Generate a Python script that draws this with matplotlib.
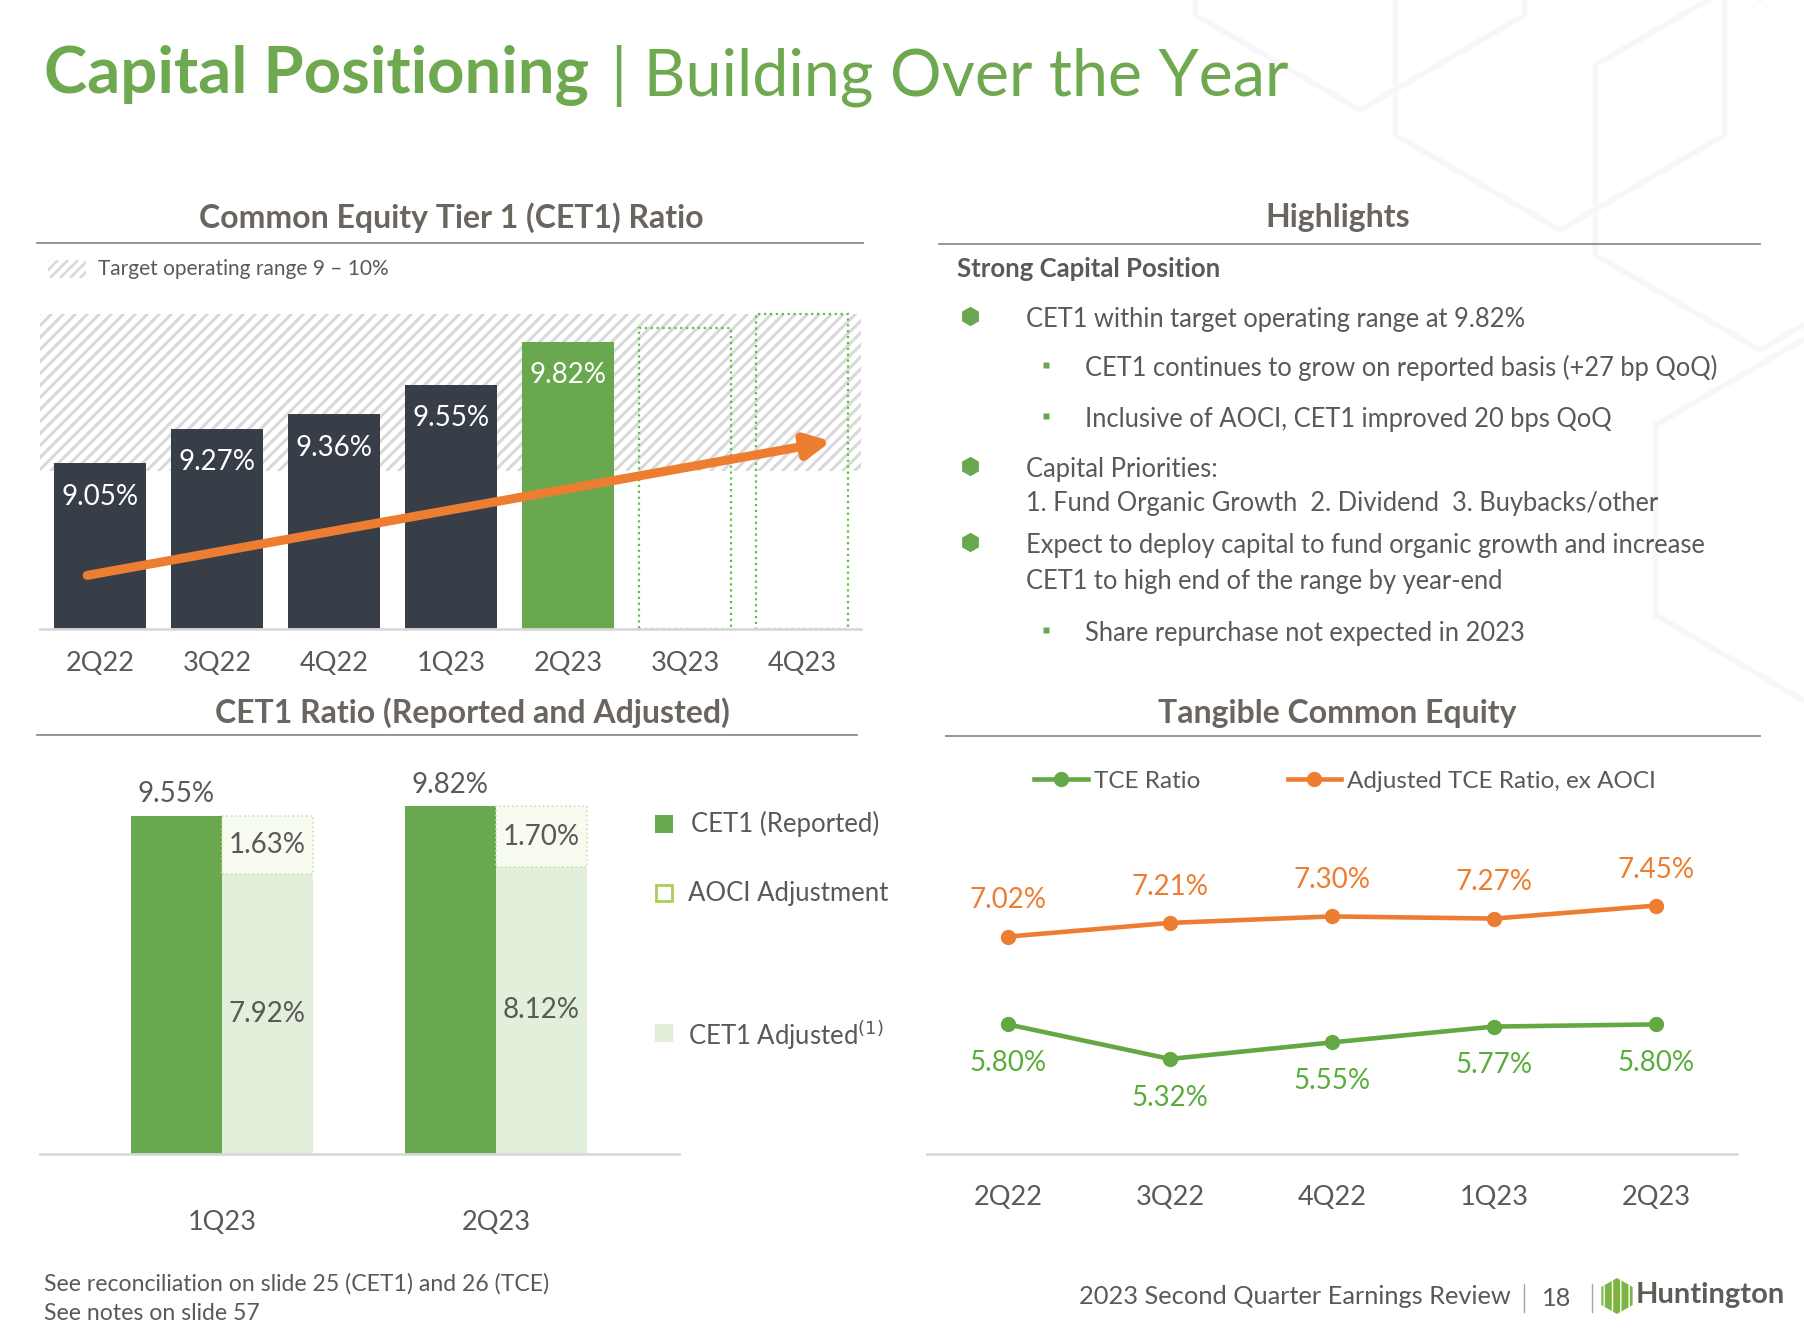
import matplotlib
matplotlib.use('Agg')
import numpy as np
import matplotlib.pyplot as plt
from matplotlib.patches import Rectangle, RegularPolygon
from matplotlib.lines import Line2D

W, H = 1804, 1330
plt.rcParams['font.family'] = ['Lato', 'DejaVu Sans']

# --- data ---
cet1_quarters = ['2Q22', '3Q22', '4Q22', '1Q23', '2Q23', '3Q23', '4Q23']
cet1_values = [9.05, 9.27, 9.36, 9.55, 9.82]
cet1_future = [9.91, 10.0]          # dotted placeholders for 3Q23 / 4Q23
target_low, target_high = 9.0, 10.0

adj_quarters = ['1Q23', '2Q23']
cet1_reported = [9.55, 9.82]
aoci_adjustment = [1.63, 1.70]
cet1_adjusted = [7.92, 8.12]

tce_quarters = ['2Q22', '3Q22', '4Q22', '1Q23', '2Q23']
tce_ratio = [5.80, 5.32, 5.55, 5.77, 5.80]
tce_adj_ratio = [7.02, 7.21, 7.30, 7.27, 7.45]

# colours
GREEN = '#6aa84f'
DARK = '#383e47'
ORANGE = '#ed7d31'
LINE_GREEN = '#64a844'
LABEL_GREEN = '#5aad3c'
TITLE_GRAY = '#6b655f'
TEXT_GRAY = '#595959'
LIGHT_GREEN = '#e2efda'
AOCI_FILL = '#f8fbf0'
STRIPE = '#d9d9d9'

fig = plt.figure(figsize=(W / 100, H / 100), dpi=100)


def axes_px(x0, y0, x1, y1):
    # place an axes using pixel coords measured from the top-left
    return fig.add_axes([x0 / W, 1 - y1 / H, (x1 - x0) / W, (y1 - y0) / H])


# full-figure layer for text and decorations, in pixel coords
bg = axes_px(0, 0, W, H)
bg.set_xlim(0, W)
bg.set_ylim(H, 0)
bg.axis('off')


def stripes(x0, y0, x1, y1, spacing=12, lw=2.2):
    # diagonal grey stripes clipped to a box (pixel coords)
    clip = Rectangle((x0, y0), x1 - x0, y1 - y0, facecolor='none', lw=0)
    bg.add_patch(clip)
    h = y1 - y0
    for s in np.arange(x0 - h, x1 + spacing, spacing):
        ln, = bg.plot([s, s + h], [y1, y0], color=STRIPE, lw=lw,
                      solid_capstyle='butt', zorder=1)
        ln.set_clip_path(clip)


# faint hexagon pattern in the top right corner
for cx, cy in [(1560, 40), (1760, 160), (1760, -190), (1360, -80), (1820, 520)]:
    bg.add_patch(RegularPolygon((cx, cy), 6, radius=190, orientation=0,
                                facecolor='none', edgecolor='#f7f7f7', lw=4, zorder=0))

# title
t1 = bg.text(44, 76, 'Capital Positioning', color='#6ea84f', fontsize=47,
             fontweight='bold', va='center', ha='left')
renderer = fig.canvas.get_renderer()
bb = t1.get_window_extent(renderer)
bg.text(bb.x1 + 22, 76, '| Building Over the Year', color='#6ea84f', fontsize=46.5,
        va='center', ha='left')

# section headers
def section(cx, y, x0, x1, yline, label):
    bg.text(cx, y, label, color=TITLE_GRAY, fontsize=23, fontweight='bold',
            ha='center', va='center')
    bg.plot([x0, x1], [yline, yline], color='#8c8c8c', lw=1.3)

section(451, 218, 37, 863, 243, 'Common Equity Tier 1 (CET1) Ratio')
section(1338, 218, 939, 1760, 244, 'Highlights')
section(472, 713, 37, 857, 735, 'CET1 Ratio (Reported and Adjusted)')
section(1337, 713, 946, 1760, 736, 'Tangible Common Equity')

# ---------------- CET1 ratio bars ----------------
ax1 = axes_px(40, 282, 861, 629)
ax1.set_xlim(-0.513, 6.504)
ax1.set_ylim(8, 10.2)
# target range as stripes behind the bars
_, y_hi = ax1.transData.transform((0, target_high))
_, y_lo = ax1.transData.transform((0, target_low))
stripes(40, H - y_hi, 861, H - y_lo)

x_hist = list(range(len(cet1_values)))
colors = [DARK] * (len(cet1_values) - 1) + [GREEN]
ax1.bar(x_hist, [v - 8 for v in cet1_values], bottom=8, width=0.78,
        color=colors, zorder=2)
for xi, v in zip(x_hist, cet1_values):
    ax1.annotate(f'{v:.2f}%', (xi, v), xytext=(0, -24), textcoords='offset points',
                 ha='center', va='center', color='white', fontsize=20, zorder=3)
x_fut = [len(cet1_values) + i for i in range(len(cet1_future))]
ax1.bar(x_fut, [v - 8 for v in cet1_future], bottom=8, width=0.78, fill=False,
        edgecolor='#5cbf4a', linestyle=':', lw=1.6, zorder=2)
ax1.annotate('', xy=(6.25, 9.19), xytext=(-0.11, 8.34),
             arrowprops=dict(arrowstyle='-|>', mutation_scale=36, lw=6.5,
                             color=ORANGE, shrinkA=0, shrinkB=0), zorder=4)
ax1.set_xticks(range(len(cet1_quarters)))
ax1.set_xticklabels(cet1_quarters, fontsize=19.5, color=TEXT_GRAY)
ax1.tick_params(length=0, pad=16)
ax1.set_yticks([])
for s in ['top', 'left', 'right']:
    ax1.spines[s].set_visible(False)
ax1.spines['bottom'].set_color('#d9d9d9')
ax1.spines['bottom'].set_linewidth(2)
ax1.set_facecolor('none')

# legend swatch for target range
stripes(48, 260, 86, 278, spacing=10, lw=2)
bg.text(98, 269, 'Target operating range 9 \u2013 10%', fontsize=15, color=TEXT_GRAY,
        va='center', ha='left')

# ---------------- CET1 reported vs adjusted ----------------
ax2 = axes_px(40, 770, 679, 1154)
ax2.set_xlim(-0.664, 1.668)
ax2.set_ylim(0, 10.85)
bw = 0.332
xg = list(range(len(adj_quarters)))
ax2.bar([x - bw / 2 for x in xg], cet1_reported, width=bw, color=GREEN, zorder=2)
ax2.bar([x + bw / 2 for x in xg], cet1_adjusted, width=bw, color=LIGHT_GREEN, zorder=2)
ax2.bar([x + bw / 2 for x in xg], aoci_adjustment, bottom=cet1_adjusted, width=bw,
        facecolor=AOCI_FILL, edgecolor='#c9e3b5', linestyle=':', lw=1.2, zorder=2)
for x, rep, adj, aoci in zip(xg, cet1_reported, cet1_adjusted, aoci_adjustment):
    ax2.annotate(f'{rep:.2f}%', (x - bw / 2, rep), xytext=(0, 15.5),
                 textcoords='offset points', ha='center', va='center',
                 fontsize=20, color=TEXT_GRAY)
    ax2.text(x + bw / 2, adj + aoci / 2, f'{aoci:.2f}%', ha='center', va='center',
             fontsize=20, color=TEXT_GRAY, zorder=3)
    ax2.text(x + bw / 2, adj / 2, f'{adj:.2f}%', ha='center', va='center',
             fontsize=20, color=TEXT_GRAY, zorder=3)
ax2.set_xticks(xg)
ax2.set_xticklabels(adj_quarters, fontsize=19.5, color=TEXT_GRAY)
ax2.tick_params(length=0, pad=40)
ax2.set_yticks([])
for s in ['top', 'left', 'right']:
    ax2.spines[s].set_visible(False)
ax2.spines['bottom'].set_color('#d9d9d9')
ax2.spines['bottom'].set_linewidth(2)
ax2.set_facecolor('none')

# legend for reported / adjusted
bg.add_patch(Rectangle((655, 815), 18, 18, facecolor=GREEN, lw=0))
bg.add_patch(Rectangle((656, 885), 16, 16, facecolor='white', edgecolor='#a9cf5a', lw=2))
bg.add_patch(Rectangle((655, 1024), 18, 18, facecolor=LIGHT_GREEN, lw=0))
bg.text(691, 824, 'CET1 (Reported)', fontsize=18.5, color=TEXT_GRAY, va='center')
bg.text(688, 893, 'AOCI Adjustment', fontsize=18.5, color=TEXT_GRAY, va='center')
bg.text(688, 1035, 'CET1 Adjusted$^{(1)}$', fontsize=18.5, color=TEXT_GRAY, va='center')

# ---------------- TCE lines ----------------
ax3 = axes_px(927, 800, 1737, 1154)
ax3.set_xlim(-0.5, 4.5)
ax3.set_ylim(4, 8.917)
xt = list(range(len(tce_quarters)))
ax3.plot(xt, tce_adj_ratio, color=ORANGE, lw=3.3, marker='o', ms=10, zorder=3)
ax3.plot(xt, tce_ratio, color=LINE_GREEN, lw=3.3, marker='o', ms=10, zorder=3)
for x, v in zip(xt, tce_adj_ratio):
    ax3.annotate(f'{v:.2f}%', (x, v), xytext=(0, 26), textcoords='offset points',
                 ha='center', va='center', fontsize=20, color=ORANGE)
for x, v in zip(xt, tce_ratio):
    ax3.annotate(f'{v:.2f}%', (x, v), xytext=(0, -28), textcoords='offset points',
                 ha='center', va='center', fontsize=20, color=LABEL_GREEN)
ax3.set_xticks(xt)
ax3.set_xticklabels(tce_quarters, fontsize=19.5, color=TEXT_GRAY)
ax3.tick_params(length=0, pad=22)
ax3.set_yticks([])
for s in ['top', 'left', 'right']:
    ax3.spines[s].set_visible(False)
ax3.spines['bottom'].set_color('#d9d9d9')
ax3.spines['bottom'].set_linewidth(2)
ax3.set_facecolor('none')

handles = [Line2D([], [], color=LINE_GREEN, lw=3.3, marker='o', ms=10),
           Line2D([], [], color=ORANGE, lw=3.3, marker='o', ms=10)]
fig.legend(handles, ['TCE Ratio', 'Adjusted TCE Ratio, ex AOCI'], loc='center',
           bbox_to_anchor=(1345 / W, 1 - 781 / H), ncol=2, frameon=False,
           fontsize=17.5, handlelength=2.2, handletextpad=0.25, columnspacing=3.6,
           labelcolor=TEXT_GRAY)

# ---------------- Highlights ----------------
bg.text(957, 269, 'Strong Capital Position', fontsize=18.5, fontweight='bold',
        color=TEXT_GRAY, va='center')
main_items = [(319, 'CET1 within target operating range at 9.82%'),
              (469, 'Capital Priorities:'),
              (545, 'Expect to deploy capital to fund organic growth and increase')]
cont_items = [(503, '1. Fund Organic Growth  2. Dividend  3. Buybacks/other'),
              (582, 'CET1 to high end of the range by year-end')]
sub_items = [(368, 'CET1 continues to grow on reported basis (+27 bp QoQ)'),
             (419, 'Inclusive of AOCI, CET1 improved 20 bps QoQ'),
             (633, 'Share repurchase not expected in 2023')]
for y, s in main_items:
    bg.plot(970, y - 3, marker='h', ms=14, color=GREEN, mec='none')
    bg.text(1026, y, s, fontsize=18.4, color=TEXT_GRAY, va='center')
for y, s in cont_items:
    bg.text(1026, y, s, fontsize=18.4, color=TEXT_GRAY, va='center')
for y, s in sub_items:
    bg.plot(1046, y - 3, marker='s', ms=5, color=GREEN, mec='none')
    bg.text(1085, y, s, fontsize=18.4, color=TEXT_GRAY, va='center')

# ---------------- footer ----------------
bg.text(44, 1284, 'See reconciliation on slide 25 (CET1) and 26 (TCE)', fontsize=16.6,
        color=TEXT_GRAY, va='center')
bg.text(44, 1313, 'See notes on slide 57', fontsize=16.6, color=TEXT_GRAY, va='center')
bg.text(1511, 1297, '2023 Second Quarter Earnings Review', fontsize=18.3,
        color=TEXT_GRAY, va='center', ha='right')
bg.plot([1524, 1524], [1284, 1312], color='#a6a6a6', lw=1)
bg.text(1557, 1299, '18', fontsize=18.3, color=TEXT_GRAY, va='center', ha='center')
bg.plot([1592, 1592], [1284, 1312], color='#a6a6a6', lw=1)
bg.add_patch(RegularPolygon((1617, 1296), 6, radius=18, orientation=0,
                            facecolor='#7cb342', edgecolor='white', hatch='||', lw=0))
bg.text(1636, 1295, 'Huntington', fontsize=21, fontweight='bold', color='#5f5b57',
        va='center', ha='left')

fig.savefig('out.png', dpi=100)
